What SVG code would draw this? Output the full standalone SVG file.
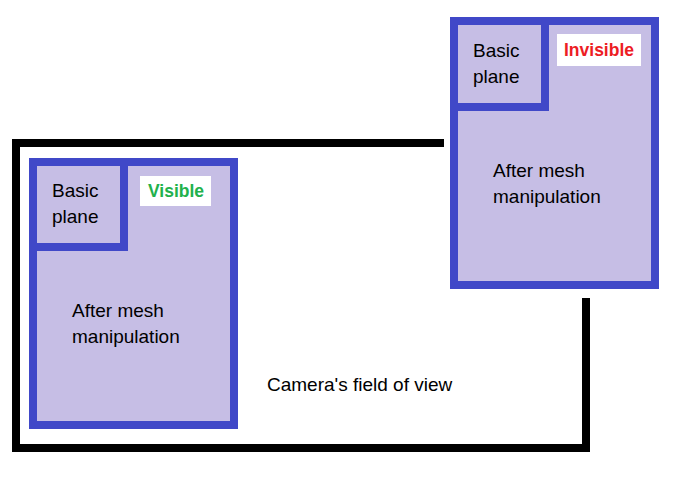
<svg xmlns="http://www.w3.org/2000/svg" width="684" height="492" viewBox="0 0 684 492">
<style>
.box{fill:#C6BEE5;stroke:#4048C8;stroke-width:8}
.t{font-family:"Liberation Sans",Arial,sans-serif;font-size:19px;fill:#000}
.lab{fill:#fff}
.b{font-family:"Liberation Sans",Arial,sans-serif;font-size:17.5px;font-weight:bold;text-anchor:middle}
</style>
<rect width="684" height="492" fill="#fff"/>
<g id="connectors">
<path d="M444,143 H16 V448 H586 V298" fill="none" stroke="#000" stroke-width="8"/>
</g>
<g id="left-plane">
<rect class="box" x="33" y="162" width="201" height="263"/>
<rect class="box" x="33" y="162" width="91" height="85"/>
<text class="t" x="52" y="197">Basic</text>
<text class="t" x="52" y="223">plane</text>
<rect class="lab" x="140" y="176" width="71" height="30"/>
<text class="b" x="176" y="197" fill="#22B14C">Visible</text>
<text class="t" x="72" y="317">After mesh</text>
<text class="t" x="72" y="343">manipulation</text>
</g>
<g id="right-plane">
<rect class="box" x="454" y="21" width="201" height="264"/>
<rect class="box" x="454" y="21" width="91" height="86"/>
<text class="t" x="473" y="57">Basic</text>
<text class="t" x="473" y="83">plane</text>
<rect class="lab" x="557" y="34" width="84" height="32"/>
<text class="b" x="599" y="56" fill="#ED1C24">Invisible</text>
<text class="t" x="493" y="177">After mesh</text>
<text class="t" x="493" y="203">manipulation</text>
</g>
<g id="label">
<text class="t" x="267" y="391">Camera's field of view</text>
</g>
</svg>
